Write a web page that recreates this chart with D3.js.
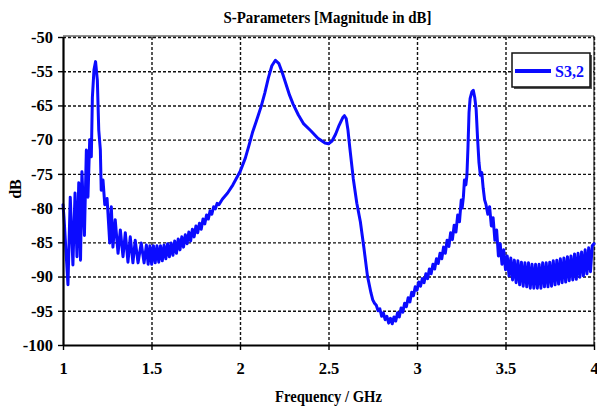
<!DOCTYPE html>
<html><head><meta charset="utf-8">
<script src="https://d3js.org/d3.v7.min.js"></script>
<style>body{margin:0;background:#fff} svg{display:block}</style>
</head><body>
<svg id="chart" width="597" height="407"></svg>
<script>
const titleText = "S-Parameters [Magnitude in dB]";
const xTitle = "Frequency / GHz";
const yTitle = "dB";
const seriesName = "S3,2";
const xTicks = [1, 1.5, 2, 2.5, 3, 3.5, 4];
const xTickLabels = ["1", "1.5", "2", "2.5", "3", "3.5", "4"];
const yTicks = [-100, -95, -90, -85, -80, -75, -70, -65, -60, -55];
const yTickLabels = ["-100", "-95", "-90", "-85", "-80", "-75", "-70", "-65", "-55", "-50"];

const freq = [
1.000,1.006,1.028,1.041,1.056,1.068,1.079,1.089,1.099,1.107,1.121,1.132,1.141,1.151,1.160,1.166,1.175,1.184,1.194,1.202,
1.211,1.216,1.226,1.236,1.249,1.264,1.273,1.282,1.295,1.311,1.324,1.339,1.352,1.367,1.380,1.395,1.408,1.424,1.442,1.458,1.471,
1.481,1.491,1.501,1.511,1.521,1.531,1.541,1.551,1.561,1.571,1.581,1.591,1.601,1.611,1.621,1.631,1.641,1.651,1.661,1.671,
1.681,1.691,1.701,1.711,1.721,1.731,1.741,1.751,1.761,1.771,1.781,1.791,1.801,1.811,1.821,1.831,1.841,1.851,1.861,1.871,1.881,
1.900,1.930,1.960,2.000,2.030,2.050,2.070,2.100,2.120,2.140,2.160,2.180,2.200,2.220,2.240,2.260,2.280,2.300,2.330,2.360,
2.400,2.440,2.480,2.500,2.520,2.540,2.560,2.580,2.590,2.600,2.610,2.620,2.640,2.660,2.680,2.700,2.720,2.740,2.750,
2.760,2.770,2.780,2.790,2.800,2.810,2.820,2.830,2.840,2.850,2.860,2.870,2.880,2.890,2.900,2.910,2.920,2.930,2.940,2.950,
2.960,2.970,2.980,2.990,3.000,3.010,3.020,3.030,3.040,3.050,3.060,3.070,3.080,3.090,3.100,3.110,3.120,3.130,3.140,3.150,
3.160,3.170,3.180,3.190,3.200,3.210,3.220,3.230,3.240,3.250,3.255,3.262,3.268,3.276,3.282,3.288,3.294,3.300,3.310,3.318,
3.326,3.334,3.342,3.350,3.358,3.366,3.374,3.382,3.390,3.400,3.410,3.420,3.430,3.440,3.450,3.460,3.470,3.480,3.490,3.500,
3.510,3.520,3.530,3.540,3.550,3.560,3.570,3.580,3.590,3.600,3.610,3.620,3.630,3.640,3.650,3.660,3.670,3.680,3.690,3.700,
3.710,3.720,3.730,3.740,3.750,3.760,3.770,3.780,3.790,3.800,3.810,3.820,3.830,3.840,3.850,3.860,3.870,3.880,3.890,3.900,
3.910,3.920,3.930,3.940,3.950,3.960,3.970,3.980,3.990,4.000
];
const s32 = [
-79.5,-81.5,-91.2,-78.4,-88.3,-77.8,-87.1,-76.3,-87.6,-74.7,-84.0,-71.5,-78.4,-70.0,-72.5,-63.8,-59.8,-58.6,-61.3,-68.6,
-71.5,-77.4,-75.9,-79.5,-78.6,-85.1,-79.8,-85.7,-81.7,-86.6,-83.2,-87.1,-83.6,-87.9,-84.2,-88.0,-84.7,-88.0,-85.1,-88.0,-85.4,
-88.2,-85.5,-88.2,-85.5,-88.0,-85.5,-87.9,-85.5,-87.7,-85.4,-87.4,-85.2,-87.1,-85.1,-86.9,-84.8,-86.6,-84.5,-86.1,-84.2,
-85.7,-83.9,-85.2,-83.5,-84.8,-83.1,-84.2,-82.6,-83.6,-82.2,-83.1,-81.6,-82.3,-81.0,-81.6,-80.4,-80.9,-79.8,-80.1,-79.3,-79.5,
-78.7,-77.8,-76.6,-74.7,-72.7,-70.9,-69.0,-66.7,-65.1,-63.2,-61.0,-59.2,-58.4,-58.9,-60.3,-61.9,-63.5,-64.8,-66.4,-67.7,
-68.7,-69.8,-70.5,-70.6,-70.2,-69.2,-67.9,-66.8,-66.5,-66.9,-68.6,-71.1,-75.7,-79.3,-82.0,-85.8,-89.9,-92.4,-93.4,
-93.9,-94.2,-95.0,-94.7,-95.8,-95.3,-96.3,-95.8,-96.8,-96.1,-96.9,-95.9,-96.5,-95.3,-95.9,-94.6,-95.2,-93.9,-94.4,-93.1,
-93.7,-92.3,-92.8,-91.5,-92.0,-90.8,-91.4,-90.3,-90.9,-89.6,-90.3,-88.9,-89.6,-88.2,-88.9,-87.4,-88.1,-86.6,-87.4,-85.7,
-86.6,-84.7,-85.6,-83.6,-84.6,-82.5,-83.5,-81.0,-82.0,-78.8,-80.0,-78.4,-75.9,-76.6,-75.2,-71.1,-66.0,-64.0,-63.0,-62.8,
-63.8,-65.5,-69.7,-73.3,-75.2,-74.8,-77.1,-78.8,-79.5,-80.9,-79.8,-82.6,-81.4,-84.7,-83.2,-87.0,-85.2,-88.2,-86.1,-89.0,
-87.0,-89.9,-87.3,-90.5,-87.6,-90.9,-87.7,-91.2,-87.9,-91.4,-88.0,-91.5,-88.0,-91.7,-88.2,-91.7,-88.2,-91.7,-88.2,-91.7,
-88.0,-91.5,-88.0,-91.5,-87.9,-91.4,-87.7,-91.2,-87.6,-91.1,-87.4,-90.9,-87.3,-90.8,-87.1,-90.6,-87.0,-90.5,-86.7,-90.4,
-86.6,-90.1,-86.4,-89.9,-86.1,-89.6,-85.8,-89.3,-85.5,-85.2
];

const W = 597, H = 407;
const m = {left: 63, right: 3, top: 37, bottom: 62};
const pw = W - m.left - m.right, ph = H - m.top - m.bottom;
const FONT = "'Liberation Serif','Times New Roman',serif";
const BLUE = "#0b0bff";

const svg = d3.select("#chart");
const x = d3.scaleLinear().domain([1, 4]).range([m.left, m.left + pw]);
const y = d3.scaleLinear().domain([-100, -55]).range([m.top + ph, m.top]);

// grid
svg.append("g").attr("transform", `translate(0,${m.top + ph})`)
  .call(d3.axisBottom(x).tickValues(xTicks.slice(1)).tickSize(-ph).tickFormat(""))
  .call(g => g.select(".domain").remove())
  .selectAll("line").attr("stroke", "#111").attr("stroke-width", 1.4).attr("stroke-dasharray", "3,2");
svg.append("g").attr("transform", `translate(${m.left},0)`)
  .call(d3.axisLeft(y).tickValues(yTicks.slice(1)).tickSize(-pw).tickFormat(""))
  .call(g => g.select(".domain").remove())
  .selectAll("line").attr("stroke", "#111").attr("stroke-width", 1.4).attr("stroke-dasharray", "3,2");

// frame top/right
svg.append("line").attr("x1", m.left).attr("x2", m.left + pw).attr("y1", m.top - 1).attr("y2", m.top - 1)
  .attr("stroke", "#222").attr("stroke-width", 1.2);
svg.append("line").attr("x1", m.left + pw).attr("x2", m.left + pw).attr("y1", m.top - 1).attr("y2", m.top + ph)
  .attr("stroke", "#222").attr("stroke-width", 1.2);

// series
const data = freq.map((f, i) => ({f, v: s32[i]}));
svg.append("path").datum(data)
  .attr("fill", "none").attr("stroke", BLUE).attr("stroke-width", 3)
  .attr("stroke-linejoin", "round").attr("stroke-linecap", "round")
  .attr("d", d3.line().x(d => x(d.f)).y(d => y(d.v)));

// axes
const ax = svg.append("g").attr("transform", `translate(0,${m.top + ph})`)
  .call(d3.axisBottom(x).tickValues(xTicks).tickFormat((d, i) => xTickLabels[i]).tickSize(5).tickSizeOuter(0).tickPadding(12));
const ay = svg.append("g").attr("transform", `translate(${m.left},0)`)
  .call(d3.axisLeft(y).tickValues(yTicks).tickFormat((d, i) => yTickLabels[i]).tickSize(5).tickSizeOuter(0).tickPadding(5));
[ax, ay].forEach(g => {
  g.select(".domain").attr("stroke", "#000").attr("stroke-width", 2.2);
  g.selectAll(".tick line").attr("stroke", "#000").attr("stroke-width", 1.4);
  g.selectAll("text").attr("font-family", FONT).attr("font-weight", "bold").attr("font-size", 16.5).attr("fill", "#000");
});

// titles
svg.append("text").attr("x", 327.5).attr("y", 23).attr("text-anchor", "middle")
  .attr("font-family", FONT).attr("font-weight", "bold").attr("font-size", 17)
  .attr("textLength", 208).attr("lengthAdjust", "spacingAndGlyphs").text(titleText);
svg.append("text").attr("x", 328.5).attr("y", 402).attr("text-anchor", "middle")
  .attr("font-family", FONT).attr("font-weight", "bold").attr("font-size", 16.5)
  .attr("textLength", 107).attr("lengthAdjust", "spacingAndGlyphs").text(xTitle);
svg.append("text").attr("transform", "translate(21,189) rotate(-90)").attr("text-anchor", "middle")
  .attr("font-family", FONT).attr("font-weight", "bold").attr("font-size", 16).text(yTitle);

// legend
const lg = svg.append("g").attr("transform", "translate(512,53)");
lg.append("rect").attr("x", 2).attr("y", 2).attr("width", 78).attr("height", 34).attr("fill", "#555");
lg.append("rect").attr("width", 78).attr("height", 34).attr("fill", "#fff").attr("stroke", "#111").attr("stroke-width", 1.5);
lg.append("line").attr("x1", 3).attr("x2", 39).attr("y1", 18).attr("y2", 18).attr("stroke", BLUE).attr("stroke-width", 4);
lg.append("text").attr("x", 43).attr("y", 24).attr("font-family", FONT).attr("font-weight", "bold")
  .attr("font-size", 16).attr("fill", BLUE).text(seriesName);
</script>
</body></html>
